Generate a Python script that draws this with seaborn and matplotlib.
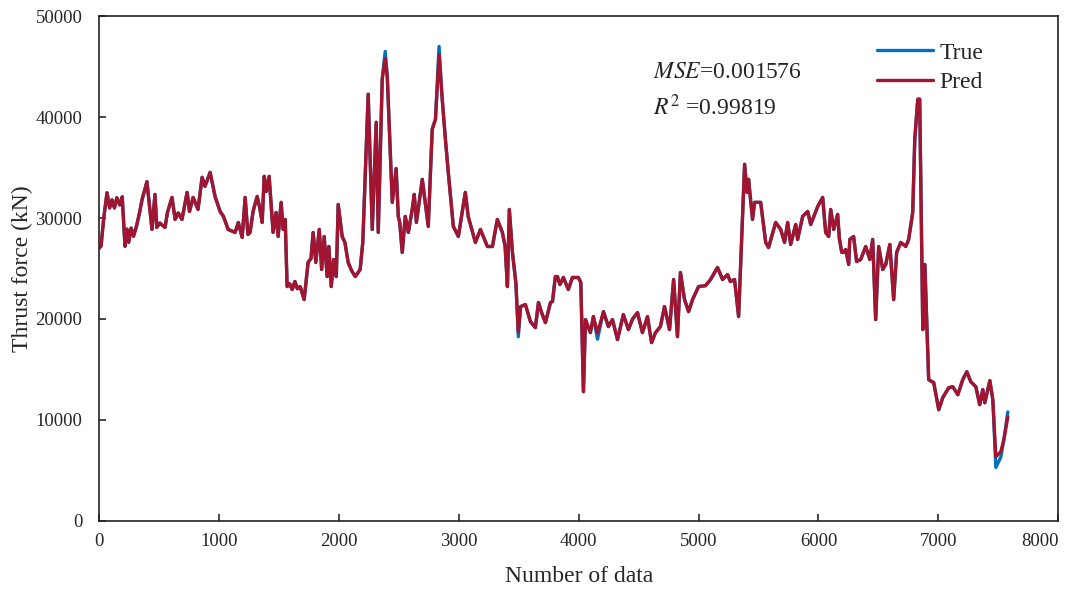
import pandas as pd
import matplotlib
matplotlib.use('Agg')
import matplotlib.pyplot as plt
import numpy as np
import seaborn as sns

# sample index
x = [0, 17, 40, 67, 89, 109, 129, 149, 174, 194, 217, 233, 248, 268, 288, 313, 338, 359, 400, 417,
     442, 467, 482, 507, 551, 571, 609, 635, 661, 692, 735, 755, 785, 826, 860, 884, 927, 968, 1010, 1038,
     1077, 1135, 1162, 1194, 1219, 1242, 1260, 1285, 1319, 1341, 1361, 1378, 1396, 1419, 1452, 1477, 1494, 1519, 1536, 1553,
     1569, 1589, 1611, 1634, 1654, 1678, 1711, 1744, 1768, 1786, 1808, 1837, 1857, 1878, 1903, 1917, 1937, 1957, 1979, 1995,
     2028, 2051, 2078, 2106, 2137, 2178, 2200, 2245, 2279, 2312, 2329, 2362, 2387, 2404, 2446, 2478, 2496, 2508, 2529, 2554,
     2580, 2612, 2629, 2647, 2696, 2746, 2779, 2806, 2836, 2861, 2889, 2913, 2955, 2997, 3055, 3079, 3139, 3181, 3239, 3281,
     3322, 3364, 3387, 3406, 3422, 3448, 3477, 3497, 3516, 3556, 3598, 3639, 3665, 3695, 3723, 3765, 3782, 3806, 3823, 3844,
     3873, 3914, 3948, 3998, 4018, 4040, 4057, 4098, 4123, 4157, 4207, 4248, 4282, 4324, 4373, 4415, 4450, 4491, 4532, 4574,
     4608, 4641, 4682, 4716, 4758, 4792, 4824, 4849, 4883, 4917, 4950, 5000, 5058, 5100, 5158, 5200, 5242, 5265, 5300, 5334,
     5384, 5404, 5417, 5450, 5467, 5518, 5560, 5584, 5643, 5685, 5717, 5743, 5768, 5810, 5826, 5868, 5910, 5935, 5994, 6035,
     6060, 6085, 6102, 6127, 6160, 6174, 6194, 6210, 6227, 6252, 6261, 6293, 6318, 6352, 6394, 6428, 6452, 6477, 6502, 6536,
     6561, 6595, 6627, 6652, 6686, 6728, 6752, 6786, 6803, 6828, 6844, 6870, 6887, 6911, 6919, 6961, 7003, 7036, 7086, 7120,
     7162, 7203, 7237, 7270, 7312, 7345, 7370, 7387, 7429, 7454, 7479, 7520, 7546, 7579]

# measured thrust force (kN)
y_true = [27000, 27200, 30000, 32500, 31000, 31800, 31000, 32000, 31300, 32100, 27200, 28900, 27600, 29000, 28200, 29200, 30500, 31800, 33600, 31650,
          28870, 32340, 29070, 29500, 29070, 30550, 32040, 29860, 30500, 29860, 32540, 30650, 32040, 30850, 34030, 33130, 34520, 32140, 30650, 30160,
          28870, 28570, 29560, 28070, 32040, 28370, 28570, 30650, 32140, 31000, 29560, 34130, 32640, 34130, 28570, 30550, 28170, 31550, 28870, 29860,
          23210, 23500, 22920, 23710, 23000, 23210, 21920, 25600, 26000, 28570, 25600, 28870, 24900, 28170, 24200, 27180, 23210, 25890, 24200, 31350,
          28170, 27580, 25600, 24800, 24200, 24900, 27580, 42260, 28870, 39480, 28570, 43750, 46500, 44050, 31550, 34900, 30160, 29560, 26590, 30160,
          28570, 30850, 32340, 29560, 33830, 29170, 38790, 39780, 47000, 42000, 37800, 34520, 29170, 28170, 32540, 30160, 27580, 28870, 27180, 27180,
          29860, 28570, 27180, 23210, 30850, 26590, 23500, 18250, 21230, 21430, 19740, 19150, 21630, 20500, 19640, 21630, 21730, 24200, 24200, 23410,
          24110, 22920, 24110, 24110, 23610, 12800, 19940, 18650, 20240, 18000, 20730, 19250, 19940, 17960, 20440, 18950, 20000, 20630, 18650, 20240,
          17660, 18650, 19250, 21230, 18950, 23910, 18250, 24600, 21920, 20730, 21920, 23210, 23300, 23910, 25100, 23910, 24400, 23710, 23910, 20240,
          35320, 32540, 33830, 29860, 31550, 31550, 27580, 27080, 29560, 28870, 27580, 29560, 27380, 29360, 27880, 30160, 30650, 29360, 31150, 32040,
          28570, 28170, 30850, 28870, 30360, 28000, 26600, 26590, 26880, 25400, 27880, 28170, 25690, 25890, 27180, 25890, 27880, 19940, 27180, 24900,
          25400, 27380, 21920, 26590, 27580, 27180, 27880, 30550, 37800, 41770, 41770, 18950, 25400, 16960, 13990, 13690, 11010, 12200, 13190, 13290,
          12500, 13990, 14780, 13790, 13290, 11510, 13000, 11700, 13890, 12000, 5300, 6300, 8040, 10800]

# predicted values follow the measurement except where the blue line peeks out
y_pred = list(y_true)
y_pred[x.index(2387)] = 45800
y_pred[x.index(2836)] = 46200
y_pred[x.index(3497)] = 18700
y_pred[x.index(4157)] = 18600
y_pred[x.index(7479)] = 6350
y_pred[x.index(7520)] = 6850
y_pred[x.index(7579)] = 10300

df = pd.DataFrame({'idx': x, 'True': y_true, 'Pred': y_pred})

sns.set_style('ticks')
plt.rcParams['font.family'] = ['Liberation Serif', 'DejaVu Serif']
plt.rcParams['mathtext.fontset'] = 'stix'

fig = plt.figure(figsize=(10.84, 5.96), dpi=100)
ax = fig.add_axes([0.0913, 0.126, 0.885, 0.847])

sns.lineplot(data=df, x='idx', y='True', ax=ax, color='#0072BD', lw=2.4, label='True')
sns.lineplot(data=df, x='idx', y='Pred', ax=ax, color='#A2142F', lw=2.4, label='Pred')

ax.set_xlim(0, 8000)
ax.set_ylim(0, 50000)
ax.set_xticks(np.arange(0, 8001, 1000))
ax.set_yticks(np.arange(0, 50001, 10000))
ax.tick_params(direction='in', length=5, width=1.2, labelsize=13.5, top=False, right=False)
ax.tick_params(axis='x', pad=9)
ax.tick_params(axis='y', pad=12)
ax.get_xticklabels()[-1].set_horizontalalignment('right')
for s in ax.spines.values():
    s.set_linewidth(1.2)
    s.set_color('#222222')

ax.set_xlabel('Number of data', fontsize=17, labelpad=11)
ax.set_ylabel('Thrust force (kN)', fontsize=17, labelpad=2)

ax.text(0.578, 0.889, r'$\it{MSE}$=0.001576', transform=ax.transAxes, fontsize=17, va='center')
ax.text(0.578, 0.820, r'$R^2$ =0.99819', transform=ax.transAxes, fontsize=17, va='center')

ax.legend(loc='upper right', bbox_to_anchor=(0.934, 0.972), frameon=False, fontsize=17,
          handlelength=2.4, handletextpad=0.25, labelspacing=0.35, borderpad=0)

fig.savefig('out.png', dpi=100)
